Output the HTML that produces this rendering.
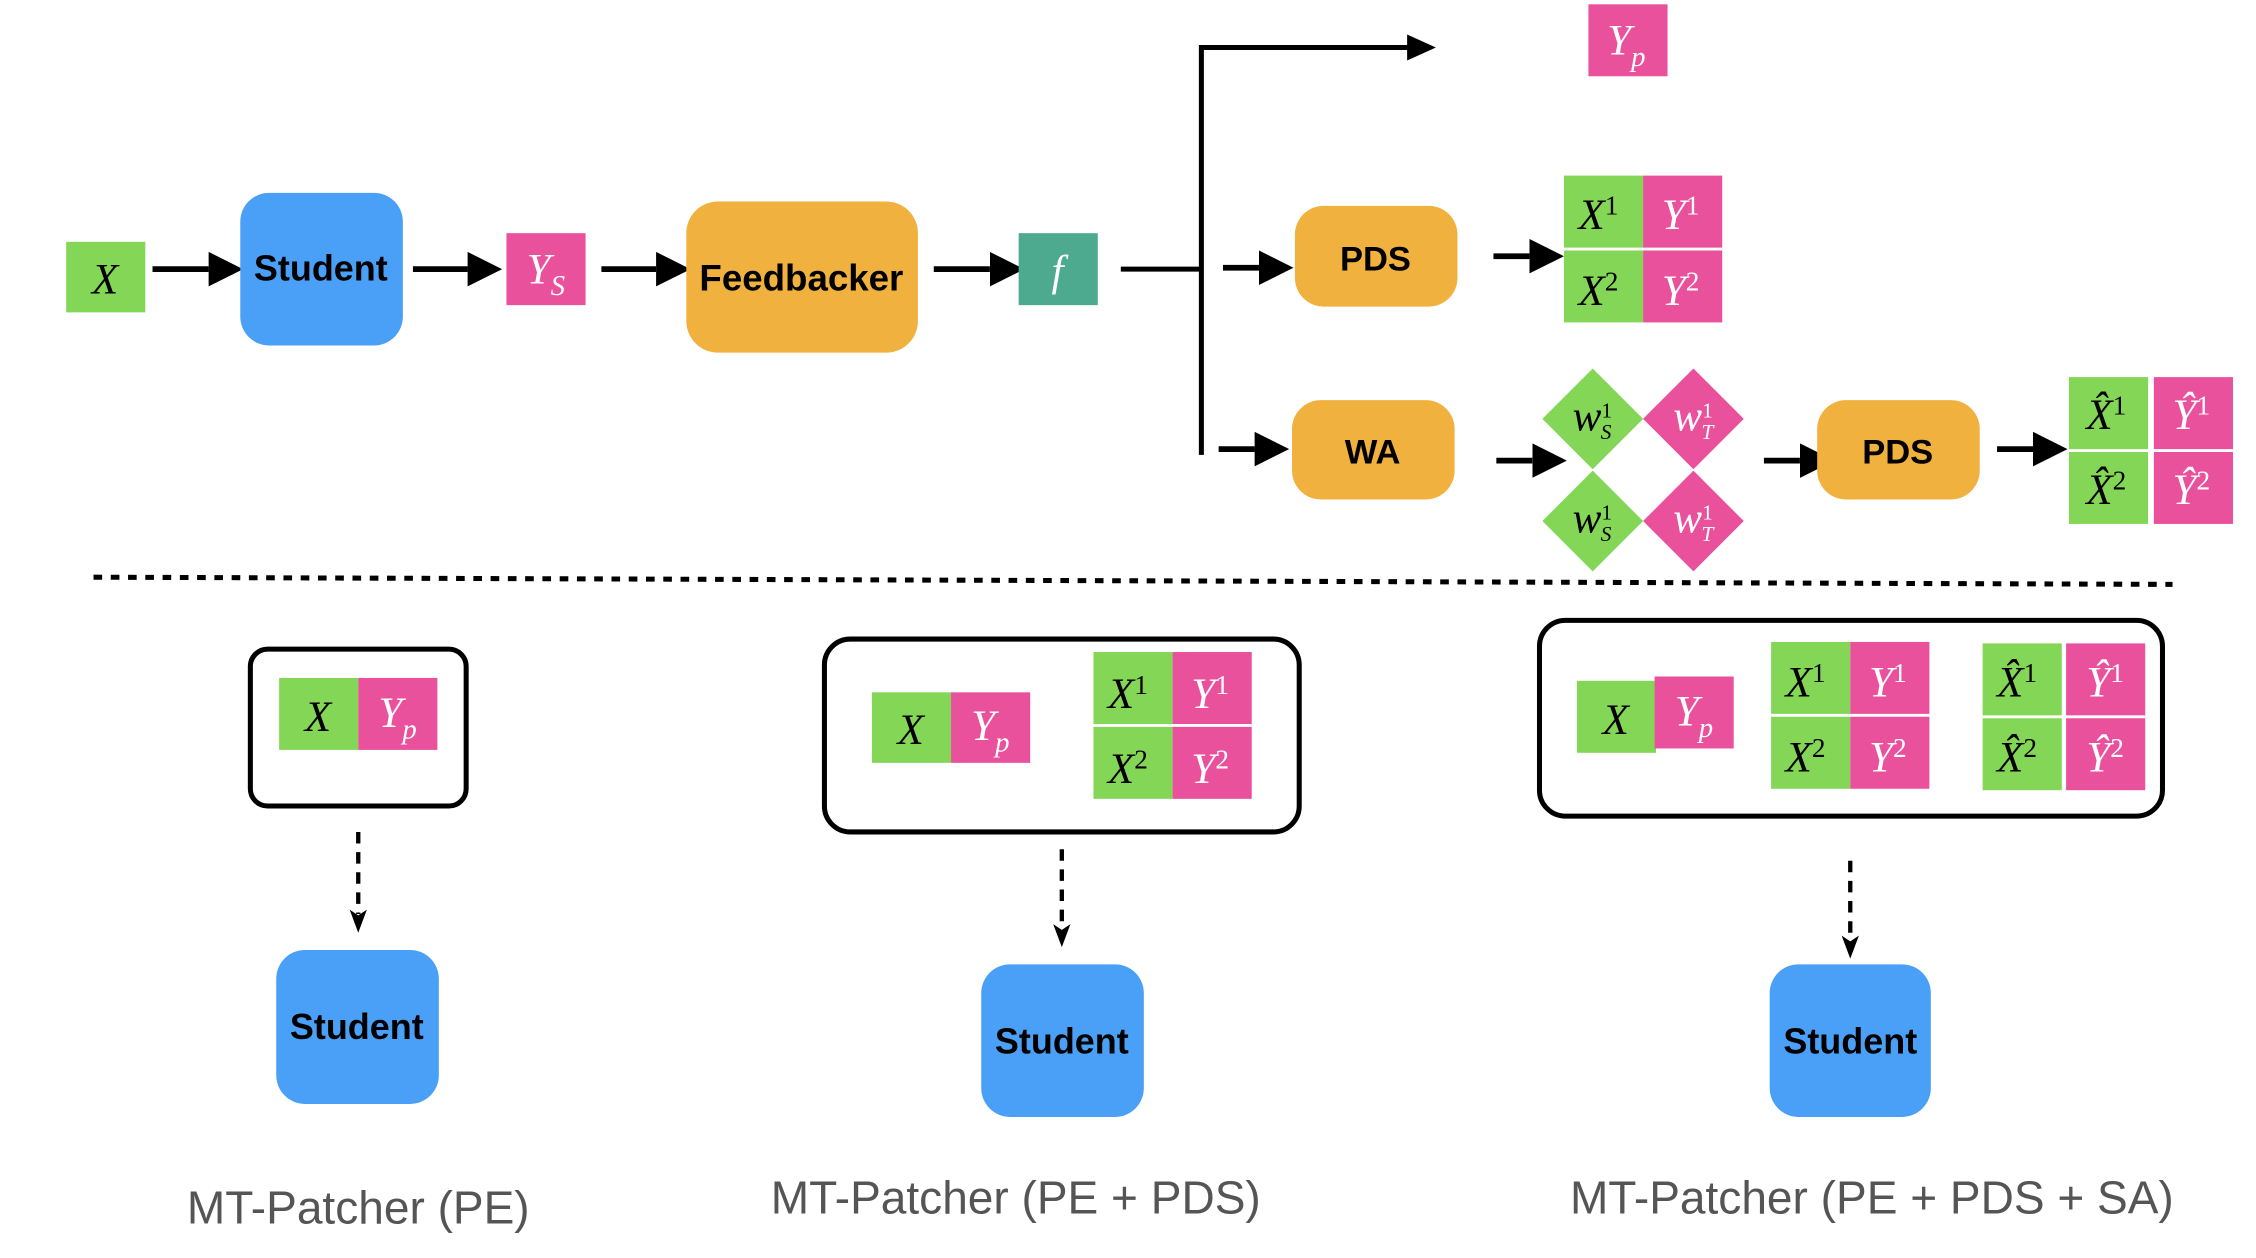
<!DOCTYPE html>
<html><head><meta charset="utf-8"><style>
html,body{margin:0;padding:0;background:#fff;width:2256px;height:1258px;overflow:hidden}
svg{display:block}
.m{font-family:"Liberation Serif",serif;font-style:italic;font-size:30px}
.m tspan.u{font-style:normal}
.b{font-family:"Liberation Sans",sans-serif;font-weight:bold}
.l{font-family:"Liberation Sans",sans-serif;font-size:32px;fill:#555}
</style></head><body>
<svg width="2256" height="1258" viewBox="0 0 1568 874" preserveAspectRatio="none" xmlns="http://www.w3.org/2000/svg">
<defs>
<marker id="ah" markerWidth="6" markerHeight="6" refX="0" refY="3" orient="auto" markerUnits="strokeWidth"><path d="M0,0 L6,3 L0,6 z" fill="#000"/></marker>
</defs>
<g stroke="#000" stroke-width="4" fill="none" marker-end="url(#ah)">
<line x1="106" y1="187" x2="145" y2="187"/>
<line x1="287" y1="187" x2="325" y2="187"/>
<line x1="418" y1="187" x2="456" y2="187"/>
<line x1="649" y1="187" x2="688" y2="187"/>
<line x1="850" y1="186" x2="875" y2="186"/>
<line x1="1038" y1="178" x2="1063" y2="178"/>
<line x1="847" y1="312" x2="872" y2="312"/>
<line x1="1040" y1="320" x2="1065" y2="320"/>
<line x1="1226" y1="320" x2="1251" y2="320"/>
<line x1="1388" y1="312" x2="1413" y2="312"/>
</g>
<path d="M779,187 H835 M835,316 V33 H980" stroke="#000" stroke-width="3.5" fill="none"/>
<path d="M978,24 L998,33 L978,42 z" fill="#000"/>
<rect x="46" y="168" width="55" height="49" fill="#84D656"/><text x="73" y="204" class="m" text-anchor="middle">X</text>
<rect x="167" y="134" width="113" height="106" rx="20" fill="#4A9FF7"/><text x="223" y="195" class="b" font-size="25" text-anchor="middle">Student</text>
<rect x="352" y="162" width="55" height="50" fill="#EA519C"/><text x="366" y="197" class="m" fill="#fff">Y<tspan font-size="20" dy="8">S</tspan></text>
<rect x="477" y="140" width="161" height="105" rx="22" fill="#F1B13E"/><text x="557" y="202" class="b" font-size="25.5" text-anchor="middle">Feedbacker</text>
<rect x="708" y="162" width="55" height="50" fill="#4EAA8E"/><text x="735" y="198" class="m" fill="#fff" text-anchor="middle">f</text>
<rect x="1104" y="3" width="55" height="50" fill="#EA519C"/><text x="1117" y="38" class="m" fill="#fff">Y<tspan font-size="20" dy="8">p</tspan></text>
<rect x="900" y="143" width="113" height="70" rx="20" fill="#F1B13E"/><text x="956" y="188" class="b" font-size="24" text-anchor="middle">PDS</text>
<rect x="898" y="278" width="113" height="69" rx="20" fill="#F1B13E"/><text x="954" y="322" class="b" font-size="24" text-anchor="middle">WA</text>
<rect x="1263" y="278" width="113" height="69" rx="20" fill="#F1B13E"/><text x="1319" y="322" class="b" font-size="24" text-anchor="middle">PDS</text>
<g>
<rect x="1087" y="122" width="55" height="102" fill="#84D656"/><rect x="1142" y="122" width="55" height="102" fill="#EA519C"/>
<line x1="1087" y1="173" x2="1197" y2="173" stroke="#fff" stroke-width="2"/>
<text x="1097" y="159" class="m">X<tspan class="u" font-size="19" dy="-10">1</tspan></text>
<text x="1155" y="159" class="m" fill="#fff">Y<tspan class="u" font-size="19" dy="-10">1</tspan></text>
<text x="1097" y="212" class="m">X<tspan class="u" font-size="19" dy="-10">2</tspan></text>
<text x="1155" y="212" class="m" fill="#fff">Y<tspan class="u" font-size="19" dy="-10">2</tspan></text>
</g>
<polygon points="1107,256 1142,291 1107,326 1072,291" fill="#84D656"/>
<polygon points="1177,256 1212,291 1177,326 1142,291" fill="#EA519C"/>
<polygon points="1107,327 1142,362 1107,397 1072,362" fill="#84D656"/>
<polygon points="1177,327 1212,362 1177,397 1142,362" fill="#EA519C"/>
<text x="1093" y="299" class="m" font-size="22">w<tspan class="u" font-size="15" dy="-9">1</tspan><tspan font-size="15" dx="-8" dy="15">S</tspan></text>
<text x="1163" y="299" class="m" font-size="22" fill="#fff">w<tspan class="u" font-size="15" dy="-9">1</tspan><tspan font-size="15" dx="-8" dy="15">T</tspan></text>
<text x="1093" y="370" class="m" font-size="22">w<tspan class="u" font-size="15" dy="-9">1</tspan><tspan font-size="15" dx="-8" dy="15">S</tspan></text>
<text x="1163" y="370" class="m" font-size="22" fill="#fff">w<tspan class="u" font-size="15" dy="-9">1</tspan><tspan font-size="15" dx="-8" dy="15">T</tspan></text>
<rect x="1438" y="262" width="55" height="102" fill="#84D656"/><rect x="1497" y="262" width="55" height="102" fill="#EA519C"/>
<line x1="1438" y1="313" x2="1552" y2="313" stroke="#fff" stroke-width="2"/>
<text x="1450" y="298" class="m">X̂<tspan class="u" font-size="19" dy="-10">1</tspan></text>
<text x="1510" y="298" class="m" fill="#fff">Ŷ<tspan class="u" font-size="19" dy="-10">1</tspan></text>
<text x="1450" y="350" class="m">X̂<tspan class="u" font-size="19" dy="-10">2</tspan></text>
<text x="1510" y="350" class="m" fill="#fff">Ŷ<tspan class="u" font-size="19" dy="-10">2</tspan></text>
<line x1="65" y1="401" x2="1510" y2="406" stroke="#000" stroke-width="3.5" stroke-dasharray="6,6"/>
<g fill="none" stroke="#000" stroke-width="3.5">
<rect x="174" y="451" width="150" height="109" rx="12"/>
<rect x="573" y="444" width="330" height="134" rx="18"/>
<rect x="1070" y="431" width="433" height="136" rx="18"/>
</g>
<rect x="194" y="471" width="55" height="50" fill="#84D656"/><rect x="249" y="471" width="55" height="50" fill="#EA519C"/>
<text x="221" y="508" class="m" text-anchor="middle">X</text><text x="263" y="505" class="m" fill="#fff">Y<tspan font-size="20" dy="8">p</tspan></text>
<rect x="606" y="481" width="55" height="49" fill="#84D656"/><rect x="661" y="481" width="55" height="49" fill="#EA519C"/>
<text x="633" y="517" class="m" text-anchor="middle">X</text><text x="675" y="514" class="m" fill="#fff">Y<tspan font-size="20" dy="8">p</tspan></text>
<rect x="760" y="453" width="55" height="102" fill="#84D656"/><rect x="815" y="453" width="55" height="102" fill="#EA519C"/>
<line x1="760" y1="504" x2="870" y2="504" stroke="#fff" stroke-width="2"/>
<text x="770" y="492" class="m">X<tspan class="u" font-size="19" dy="-10">1</tspan></text>
<text x="828" y="492" class="m" fill="#fff">Y<tspan class="u" font-size="19" dy="-10">1</tspan></text>
<text x="770" y="544" class="m">X<tspan class="u" font-size="19" dy="-10">2</tspan></text>
<text x="828" y="544" class="m" fill="#fff">Y<tspan class="u" font-size="19" dy="-10">2</tspan></text>
<rect x="1096" y="473" width="55" height="50" fill="#84D656"/><rect x="1150" y="470" width="55" height="50" fill="#EA519C"/>
<text x="1123" y="510" class="m" text-anchor="middle">X</text><text x="1164" y="504" class="m" fill="#fff">Y<tspan font-size="20" dy="8">p</tspan></text>
<rect x="1231" y="446" width="55" height="102" fill="#84D656"/><rect x="1286" y="446" width="55" height="102" fill="#EA519C"/>
<line x1="1231" y1="497" x2="1341" y2="497" stroke="#fff" stroke-width="2"/>
<text x="1241" y="484" class="m">X<tspan class="u" font-size="19" dy="-10">1</tspan></text>
<text x="1299" y="484" class="m" fill="#fff">Y<tspan class="u" font-size="19" dy="-10">1</tspan></text>
<text x="1241" y="536" class="m">X<tspan class="u" font-size="19" dy="-10">2</tspan></text>
<text x="1299" y="536" class="m" fill="#fff">Y<tspan class="u" font-size="19" dy="-10">2</tspan></text>
<rect x="1378" y="447" width="55" height="102" fill="#84D656"/><rect x="1436" y="447" width="55" height="102" fill="#EA519C"/>
<line x1="1378" y1="498" x2="1491" y2="498" stroke="#fff" stroke-width="2"/>
<text x="1388" y="484" class="m">X̂<tspan class="u" font-size="19" dy="-10">1</tspan></text>
<text x="1450" y="484" class="m" fill="#fff">Ŷ<tspan class="u" font-size="19" dy="-10">1</tspan></text>
<text x="1388" y="536" class="m">X̂<tspan class="u" font-size="19" dy="-10">2</tspan></text>
<text x="1450" y="536" class="m" fill="#fff">Ŷ<tspan class="u" font-size="19" dy="-10">2</tspan></text>
<g stroke="#000" stroke-width="3" stroke-dasharray="8,6">
<line x1="249" y1="578" x2="249" y2="635"/>
<line x1="738" y1="590" x2="738" y2="645"/>
<line x1="1286" y1="598" x2="1286" y2="653"/>
</g>
<path d="M243,632 L249,648 L255,632 L249,636 z M732,642 L738,658 L744,642 L738,646 z M1280,650 L1286,666 L1292,650 L1286,654 z" fill="#000"/>
<rect x="192" y="660" width="113" height="107" rx="20" fill="#4A9FF7"/><text x="248" y="722" class="b" font-size="25" text-anchor="middle">Student</text>
<rect x="682" y="670" width="113" height="106" rx="20" fill="#4A9FF7"/><text x="738" y="732" class="b" font-size="25" text-anchor="middle">Student</text>
<rect x="1230" y="670" width="112" height="106" rx="20" fill="#4A9FF7"/><text x="1286" y="732" class="b" font-size="25" text-anchor="middle">Student</text>
<text x="249" y="850" class="l" text-anchor="middle">MT-Patcher (PE)</text>
<text x="706" y="843" class="l" text-anchor="middle">MT-Patcher (PE + PDS)</text>
<text x="1301" y="843" class="l" text-anchor="middle">MT-Patcher (PE + PDS + SA)</text>
</svg>
</body></html>
